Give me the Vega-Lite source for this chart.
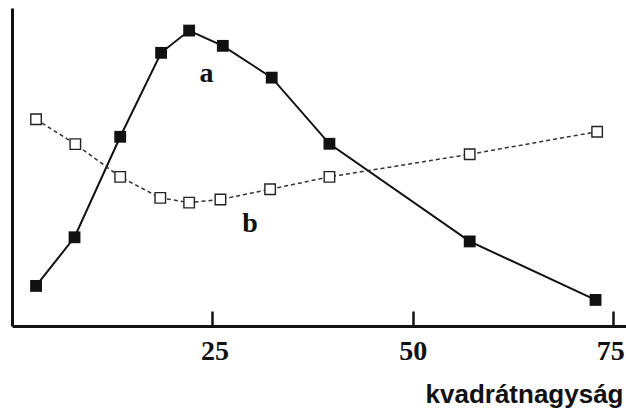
{
  "$schema": "https://vega.github.io/schema/vega-lite/v6.json",
  "width": 614,
  "height": 318,
  "autosize": "none",
  "padding": {"left": 12, "top": 8, "right": 0, "bottom": 86},
  "background": "white",
  "config": {"view": {"stroke": null}},
  "datasets": {
    "series": [
      {"s": "a", "x": 3.0, "y": 12.6},
      {"s": "a", "x": 7.8, "y": 27.9},
      {"s": "a", "x": 13.5, "y": 59.5},
      {"s": "a", "x": 18.6, "y": 85.9},
      {"s": "a", "x": 22.1, "y": 92.9},
      {"s": "a", "x": 26.3, "y": 88.1},
      {"s": "a", "x": 32.4, "y": 78.1},
      {"s": "a", "x": 39.6, "y": 57.3},
      {"s": "a", "x": 57.1, "y": 26.6},
      {"s": "a", "x": 72.8, "y": 8.2},
      {"s": "b", "x": 3.0, "y": 65.0},
      {"s": "b", "x": 7.9, "y": 57.2},
      {"s": "b", "x": 13.5, "y": 46.9},
      {"s": "b", "x": 18.5, "y": 40.3},
      {"s": "b", "x": 22.1, "y": 38.8},
      {"s": "b", "x": 26.0, "y": 39.8},
      {"s": "b", "x": 32.2, "y": 43.0},
      {"s": "b", "x": 39.6, "y": 46.9},
      {"s": "b", "x": 57.1, "y": 54.0},
      {"s": "b", "x": 73.0, "y": 61.1}
    ],
    "labels": [
      {"t": "a", "x": 24.25, "y": 76.7},
      {"t": "b", "x": 29.7, "y": 29.6}
    ]
  },
  "layer": [
    {
      "data": {"name": "series"},
      "transform": [{"filter": "datum.s === 'a'"}],
      "mark": {"type": "line", "color": "#111111", "strokeWidth": 2},
      "encoding": {
        "x": {
          "field": "x", "type": "quantitative",
          "scale": {"domain": [0, 76.6], "nice": false, "zero": false},
          "axis": {
            "values": [25, 50, 75],
            "grid": false,
            "tickSize": -15,
            "tickWidth": 2.5,
            "tickColor": "#111111",
            "domainWidth": 3,
            "domainColor": "#111111",
            "labelFont": "Liberation Sans Narrow",
            "labelFontWeight": "bold",
            "labelFontSize": 28,
            "labelColor": "#111111",
            "labelPadding": 26,
            "labelFlush": false,
            "labelOffset": {"expr": "datum.value == 75 ? -3 : (datum.value == 25 ? 2 : 0)"},
            "title": "kvadrátnagyság",
            "titleFont": "Liberation Sans",
            "titleFontWeight": "bold",
            "titleFontSize": 26,
            "titleColor": "#111111",
            "titleAlign": "right",
            "titleAnchor": null,
            "titleBaseline": "alphabetic",
            "titleX": 611,
            "titleY": 76
          }
        },
        "y": {
          "field": "y", "type": "quantitative",
          "scale": {"domain": [0, 100], "nice": false},
          "axis": {
            "grid": false, "ticks": false, "labels": false, "title": null,
            "domainWidth": 3, "domainColor": "#111111"
          }
        }
      }
    },
    {
      "data": {"name": "series"},
      "transform": [{"filter": "datum.s === 'b'"}],
      "mark": {"type": "line", "color": "#333333", "strokeWidth": 1.5, "strokeDash": [4, 3]},
      "encoding": {
        "x": {"field": "x", "type": "quantitative"},
        "y": {"field": "y", "type": "quantitative"}
      }
    },
    {
      "data": {"name": "series"},
      "transform": [{"filter": "datum.s === 'a'"}],
      "mark": {"type": "point", "shape": "square", "filled": true, "color": "#111111", "size": 140, "opacity": 1},
      "encoding": {
        "x": {"field": "x", "type": "quantitative"},
        "y": {"field": "y", "type": "quantitative"}
      }
    },
    {
      "data": {"name": "series"},
      "transform": [{"filter": "datum.s === 'b'"}],
      "mark": {"type": "point", "shape": "square", "filled": false, "fill": "white", "fillOpacity": 1, "stroke": "#222222", "strokeWidth": 1.4, "size": 110, "opacity": 1},
      "encoding": {
        "x": {"field": "x", "type": "quantitative"},
        "y": {"field": "y", "type": "quantitative"}
      }
    },
    {
      "data": {"name": "labels"},
      "mark": {"type": "text", "font": "Liberation Serif", "fontWeight": "bold", "fontSize": 28, "color": "#111111", "align": "center", "baseline": "alphabetic"},
      "encoding": {
        "x": {"field": "x", "type": "quantitative"},
        "y": {"field": "y", "type": "quantitative"},
        "text": {"field": "t"}
      }
    }
  ]
}
